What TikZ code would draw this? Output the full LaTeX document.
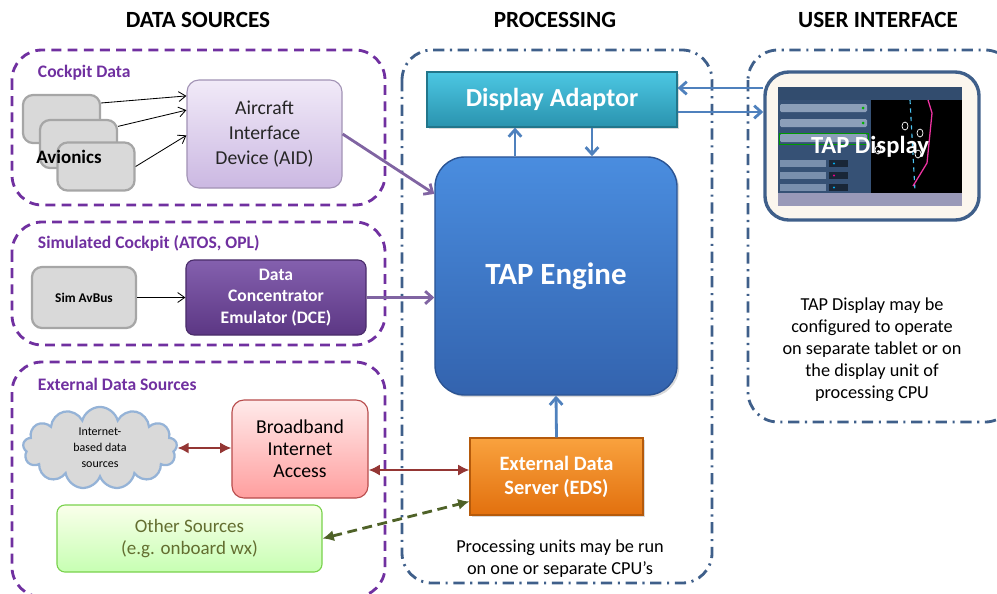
\documentclass[tikz,border=0pt]{standalone}
\usepackage{fontspec}
\setmainfont{Carlito}
\usetikzlibrary{arrows.meta,calc,shapes.symbols,shadows}
\definecolor{srcpurple}{HTML}{7030A0}
\definecolor{procblue}{HTML}{3F5F8A}
\definecolor{linkblue}{HTML}{4F81BD}
\definecolor{linkpurple}{HTML}{8064A2}
\definecolor{linkred}{HTML}{943634}
\definecolor{linkgreen}{HTML}{4F6228}
\definecolor{avgray}{HTML}{D9D9D9}
\definecolor{avedge}{HTML}{A6A6A6}
\definecolor{othertext}{HTML}{636E30}
\definecolor{aidtop}{HTML}{F1EAF8}
\definecolor{aidbot}{HTML}{CBB8E2}
\definecolor{dcetop}{HTML}{8460AE}
\definecolor{dcebot}{HTML}{5C3784}
\definecolor{datop}{HTML}{4CC7E3}
\definecolor{dabot}{HTML}{2A93AE}
\definecolor{engtop}{HTML}{4A8DDF}
\definecolor{engbot}{HTML}{3363AE}
\definecolor{edstop}{HTML}{F9A23E}
\definecolor{edsbot}{HTML}{E2700E}

\begin{document}
\begin{tikzpicture}[x=0.025cm, y=-0.025cm,
  head/.style={font=\fontsize{16.5}{20}\selectfont\bfseries},
  grouplabel/.style={anchor=west, text=srcpurple, font=\fontsize{12.5}{15}\selectfont\bfseries},
  srcframe/.style={draw=srcpurple, line width=2pt, dash pattern=on 7pt off 4.5pt, rounded corners=0.75cm},
  procframe/.style={draw=procblue, line width=2pt, dash pattern=on 8pt off 4pt on 1.5pt off 4pt, rounded corners=0.75cm},
  box/.style={draw, rounded corners=0.3cm, align=center, line width=0.8pt},
  flatbox/.style={draw, align=center, line width=0.8pt, drop shadow={opacity=0.3, shadow xshift=1.5pt, shadow yshift=-1.5pt}},
  graybox/.style={box, fill=avgray, draw=avedge, line width=1.6pt, rounded corners=0.25cm, minimum width=1.925cm, minimum height=1.2cm},
  thin/.style={-{Straight Barb[length=5pt,width=7pt]}, line width=0.6pt},
  bluelink/.style={-{Straight Barb[length=5pt,width=9pt]}, draw=linkblue, line width=2pt},
  purplink/.style={-{Straight Barb[length=5pt,width=9pt]}, draw=linkpurple, line width=2pt},
  redlink/.style={{Latex[length=8pt,width=8pt]}-{Latex[length=8pt,width=8pt]}, draw=linkred, line width=1.8pt},
  greenlink/.style={{Latex[length=8pt,width=8pt]}-{Latex[length=8pt,width=8pt]}, draw=linkgreen, line width=2pt, dash pattern=on 7pt off 4pt}]
\clip (0,0) rectangle (997,593);

% Column headings
\foreach \x/\name/\heading in {198/hsrc/DATA SOURCES, 555/hproc/PROCESSING, 878/hui/USER INTERFACE} {
    \node[head] (\name) at (\x,20) {\heading};
}

% Group frames
\draw[srcframe] (12,50) rectangle (385,205);
\draw[srcframe] (12,222) rectangle (385,345);
\draw[srcframe] (12,362) rectangle (385,597);
\draw[procframe] (402,50) rectangle (712,583);
\draw[procframe] (748,50) rectangle (1015,422);

\node[grouplabel] (lcockpit) at (33,73) {Cockpit Data};
\node[grouplabel] (lsim) at (33,243) {Simulated Cockpit (ATOS, OPL)};
\node[grouplabel] (lext) at (33,384) {External Data Sources};

% Cockpit data
\foreach \n/\x/\y in {1/61.5/119, 2/78.5/144, 3/96/166.5} {
    \node[graybox] (av\n) at (\x,\y) {};
}
\node[font=\fontsize{13.5}{16}\selectfont\bfseries] (avlabel) at (69,157) {Avionics};
\node[box, draw=aidbot!80!black, top color=aidtop, bottom color=aidbot, minimum width=3.875cm, minimum height=2.7cm,
      font=\fontsize{14}{17.7}\selectfont, text=black!85] (aid) at (264.5,134) {Aircraft\\Interface\\Device (AID)};
\draw[thin] (av1.22) -- (aid.154);
\draw[thin] (av2.24) -- (aid.163);
\draw[thin] (av3.east) -- (aid.181);

% Simulated cockpit
\node[graybox, minimum width=2.6cm, minimum height=1.525cm, font=\fontsize{9.5}{11}\selectfont\bfseries] (simbus) at (84,297.5) {Sim AvBus};
\node[box, rounded corners=0.2cm, draw=dcebot!80!black, top color=dcetop, bottom color=dcebot,
      text=white, minimum width=4.5cm, minimum height=1.875cm, font=\fontsize{12.5}{15.5}\selectfont\bfseries] (dce) at (276,297.5) {Data\\Concentrator\\Emulator (DCE)};
\draw[thin] (simbus) -- (dce);

% External data sources
\node[cloud, cloud puffs=13, aspect=2.6, draw=linkblue!60, line width=1.6pt, fill=avgray, minimum width=3.85cm, minimum height=1.8cm,
      align=center, inner sep=0pt, font=\fontsize{8.5}{11.5}\selectfont] (cloud) at (100,448) {Internet-\\based data\\sources};
\node[box, draw=red!60!black!70, top color=red!8, bottom color=red!38, minimum width=3.4cm, minimum height=2.45cm,
      font=\fontsize{14}{15.8}\selectfont] (bb) at (300,449) {Broadband\\Internet\\Access};
\node[box, rounded corners=0.2cm, draw=green!50!olive!70, top color=lime!8, bottom color=lime!35!green!30, minimum width=6.625cm, minimum height=1.675cm,
      text=othertext, font=\fontsize{13.5}{16}\selectfont] (other) at (189.5,538.5) {Other Sources\\(e.g. onboard wx)};

% Processing
\node[flatbox, draw=dabot!80!black, top color=datop, bottom color=dabot, minimum width=6.25cm, minimum height=1.375cm,
      text=white, font=\fontsize{18.5}{22}\selectfont\bfseries] (da) at (552,99.5) {Display Adaptor};
\node[draw=engbot!85!black, line width=1pt, rounded corners=0.75cm, top color=engtop, bottom color=engbot,
      minimum width=6.05cm, minimum height=5.95cm, text=white, font=\fontsize{22}{26}\selectfont\bfseries,
      drop shadow={opacity=0.3, shadow xshift=1.5pt, shadow yshift=-1.5pt}] (engine) at (556,276) {TAP Engine};
\node[flatbox, draw=edsbot!80!black, top color=edstop, bottom color=edsbot, minimum width=4.325cm, minimum height=1.925cm,
      text=white, font=\fontsize{14.5}{17}\selectfont\bfseries] (eds) at (556.5,476.5) {External Data\\Server (EDS)};
\node[align=center, font=\fontsize{13}{15.6}\selectfont] (procnote) at (560,559) {Processing units may be run\\on one or separate CPU’s};

\draw[bluelink] ($(engine.north)+(-41,0)$) -- ($(da.south)+(-37,0)$);
\draw[bluelink] ($(da.south)+(40,0)$) -- ($(engine.north)+(36,0)$);
\draw[bluelink] (eds.north) -- (engine.south);
\draw[purplink] (aid.east) -- (engine.146);
\draw[purplink] (dce.east) -- (dce.east -| engine.west);
\draw[redlink] (cloud.east) -- (cloud.east -| bb.west);
\coordinate (bbout) at ($(bb.east)+(0,21)$);
\draw[redlink] (bbout) -- (bbout -| eds.west);
\draw[greenlink] (other.east) -- (eds.196);

% User interface
\node[draw=procblue, line width=2.4pt, rounded corners=0.6cm, fill=yellow!6!brown!8, minimum width=5.35cm, minimum height=3.7cm] (tablet) at (872,146) {};
\fill[black!85!blue] (778,87) rectangle (962,206);
\fill[procblue!80!black] (778,87) rectangle (962,100);
\fill[procblue!85!black] (778,100) rectangle (871,193);
\fill[black] (871,100) rectangle (962,193);
\fill[black!70!blue!40] (778,193) rectangle (962,206);
\foreach \y in {104,119,134} {
    \fill[procblue!60!white, rounded corners=1pt] (780,\y) rectangle (867,\y+8);
    \fill[green!70!black] (863,\y+4) circle (1.5);
}
\draw[green!60!black, line width=0.6pt] (779,133) rectangle (868,144);
\foreach \y/\c in {160/cyan, 172/magenta, 184/cyan} {
    \fill[procblue!70!white] (780,\y) rectangle (826,\y+7);
    \fill[procblue!40!black] (829,\y) rectangle (848,\y+7);
    \fill[\c] (834,\y+3.5) circle (1.2);
}
\draw[cyan!70!white, dashed, line width=0.8pt] (910,100) -- (915,191);
\draw[magenta!80!white, line width=0.9pt] (928,100) -- (932,113) -- (927,163) -- (913,186);
\foreach \x/\y in {920/133, 918/154, 878/150, 905/126} {
    \draw[white, line width=0.5pt] (\x,\y) ellipse (3 and 4);
}
\node[text=white, font=\fontsize{17.5}{20}\selectfont\bfseries] (tapdisp) at (870,147) {TAP Display};

\coordinate (dain) at ($(da.east)+(0,-11.5)$);
\coordinate (daout) at ($(da.east)+(0,12.5)$);
\draw[bluelink] (dain -| tablet.west) -- (dain);
\draw[bluelink] (daout) -- (daout -| tablet.west);

\node[align=center, font=\fontsize{13}{15.6}\selectfont] (uinote) at (872,350) {TAP Display may be\\configured to operate\\on separate tablet or on\\the display unit of\\processing CPU};
\end{tikzpicture}
\end{document}
